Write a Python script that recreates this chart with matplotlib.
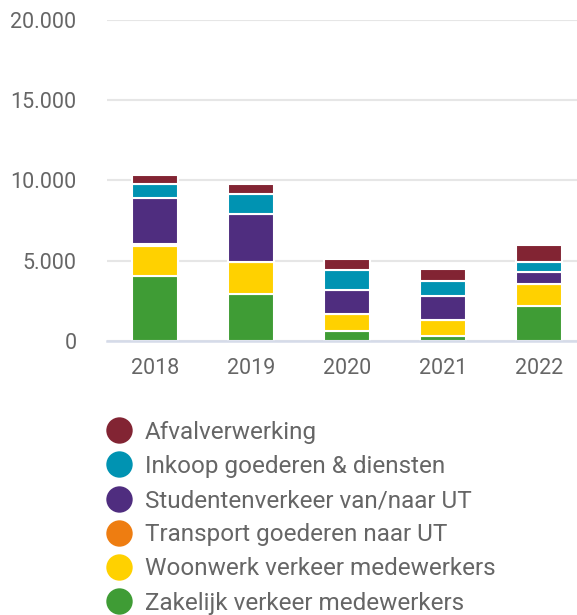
import matplotlib
matplotlib.use("Agg")
import matplotlib.pyplot as plt
from matplotlib.lines import Line2D
from matplotlib.ticker import FuncFormatter
import numpy as np

# CO2 emissie per categorie (ton), uitgelezen uit de grafiek
years = ["2018", "2019", "2020", "2021", "2022"]
zakelijk = [4040, 2920, 645, 290, 2170]
woonwerk = [1880, 2000, 1025, 1020, 1380]
transport = [120, 0, 0, 0, 0]
studenten = [2840, 3005, 1500, 1480, 720]
inkoop = [875, 1265, 1225, 975, 625]
afval = [600, 580, 710, 710, 1090]

series = [
    ("Zakelijk verkeer medewerkers", zakelijk, "#3f9c35"),
    ("Woonwerk verkeer medewerkers", woonwerk, "#ffd100"),
    ("Transport goederen naar UT", transport, "#ee7d11"),
    ("Studentenverkeer van/naar UT", studenten, "#4f2d7f"),
    ("Inkoop goederen & diensten", inkoop, "#0093b2"),
    ("Afvalverwerking", afval, "#822433"),
]

plt.rcParams['font.family'] = ['Roboto', 'DejaVu Sans']
text_color = "#666666"

fig = plt.figure(figsize=(5.77, 6.15), dpi=100)
ax = fig.add_axes([107 / 577, 274 / 615, 470 / 577, 321 / 615])

x = np.arange(len(years))
bottom = np.zeros(len(years))
for name, vals, col in series:
    vals = np.array(vals, dtype=float)
    ax.bar(x, vals, bottom=bottom, width=0.48, color=col,
           edgecolor="white", linewidth=1.5, zorder=3)
    bottom += vals

ax.set_xlim(-0.5, 4.4)
ax.set_ylim(0, 20000)
ax.set_yticks([0, 5000, 10000, 15000, 20000])
ax.yaxis.set_major_formatter(FuncFormatter(lambda v, p: f"{int(v):,}".replace(",", ".")))
ax.set_xticks(x)
ax.set_xticklabels(years)

ax.grid(axis="y", color="#e6e6e6", linewidth=1.5, zorder=0)
for s in ["top", "right", "left"]:
    ax.spines[s].set_visible(False)
ax.spines["bottom"].set_color("#d5dbe9")
ax.spines["bottom"].set_linewidth(1.8)
ax.spines["bottom"].set_zorder(4)
ax.tick_params(axis="y", length=0, pad=22, labelsize=15.5, labelcolor=text_color)
ax.tick_params(axis="x", length=0, pad=12, labelsize=15.5, labelcolor=text_color)

handles = [Line2D([], [], marker="o", ls="", markersize=19, color=c,
                  markeredgewidth=0) for _, _, c in series][::-1]
labels = [n for n, _, _ in series][::-1]
fig.legend(handles, labels, loc="upper left", bbox_to_anchor=(95 / 577, 1 - 411 / 615),
           frameon=False, fontsize=17.5, labelcolor=text_color,
           handletextpad=0.45, labelspacing=0.46, borderaxespad=0, handlelength=1.2)

fig.savefig("out.png", dpi=100)
